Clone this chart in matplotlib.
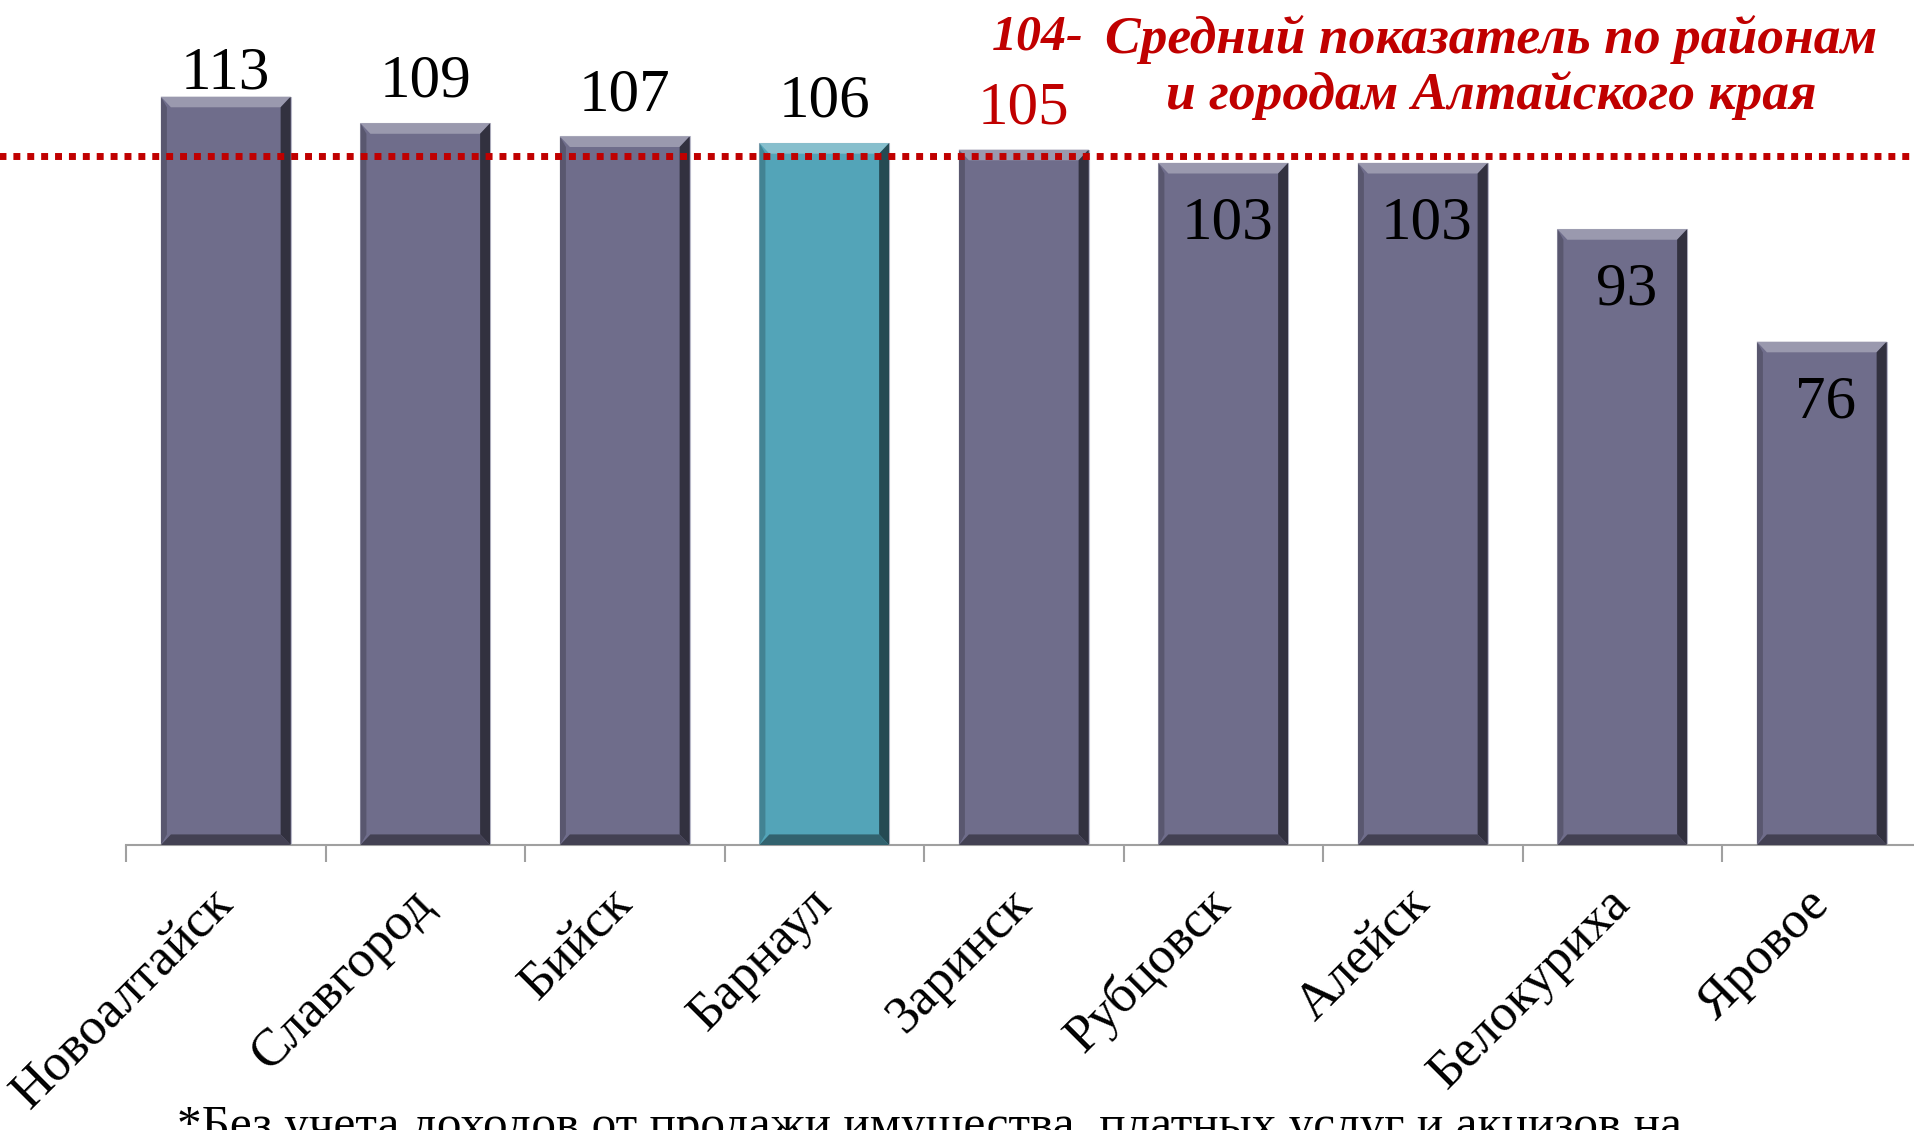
import matplotlib.pyplot as plt
import matplotlib.colors as mc
from matplotlib.patches import Polygon

# data
cities = ["Новоалтайск", "Славгород", "Бийск", "Барнаул", "Заринск",
          "Рубцовск", "Алейск", "Белокуриха", "Яровое"]
values = [113, 109, 107, 106, 105, 103, 103, 93, 76]
average = 104
highlight = "Барнаул"
note_text = "Средний показатель по районам\nи городам Алтайского края"
avg_label = "104-"
footnote = "*Без учета доходов от продажи имущества, платных услуг и акцизов на"

plt.rcParams["font.family"] = ["Liberation Serif", "DejaVu Serif"]

bar_color = "#6F6D8B"
hi_color = "#53A4B8"
red = "#C00000"

fig = plt.figure(figsize=(19.15, 11.3), dpi=100)
ax = fig.add_axes([0.0658, 0.2522, 0.9376, 0.7478])

x = list(range(len(cities)))
colors = [hi_color if c == highlight else bar_color for c in cities]
bars = ax.bar(x, values, width=0.65, color=colors, edgecolor="#B8B8C8",
              linewidth=0.8, zorder=2)

ax.set_xlim(-0.5, len(cities) - 0.5)
ax.set_ylim(0, 127.6)


def shade(c, f):
    r, g, b = mc.to_rgb(c)
    if f > 1:
        return (r + (1 - r) * (f - 1), g + (1 - g) * (f - 1), b + (1 - b) * (f - 1))
    return (r * f, g * f, b * f)


# bevel look on every bar
dx, dy = 0.05, 1.6
for b, c in zip(bars, colors):
    x0, w, h = b.get_x(), b.get_width(), b.get_height()
    x1 = x0 + w
    top = Polygon([(x0, h), (x1, h), (x1 - dx, h - dy), (x0 + dx, h - dy)],
                  closed=True, color=shade(c, 1.3), lw=0, zorder=3)
    right = Polygon([(x1, h), (x1, 0), (x1 - dx, dy), (x1 - dx, h - dy)],
                    closed=True, color=shade(c, 0.45), lw=0, zorder=3)
    left = Polygon([(x0, h), (x0, 0), (x0 + dx * 0.6, dy), (x0 + dx * 0.6, h - dy)],
                   closed=True, color=shade(c, 0.8), lw=0, zorder=3)
    bottom = Polygon([(x0, 0), (x1, 0), (x1 - dx, dy), (x0 + dx, dy)],
                     closed=True, color=shade(c, 0.6), lw=0, zorder=3)
    for p in (top, right, left, bottom):
        ax.add_patch(p)

# value labels
for i, v in enumerate(values):
    if v > average + 1:
        ax.text(i, min(v + 2.0, 112.3), str(v), ha="center", va="bottom",
                fontsize=44, color="black", zorder=5)
    elif v > average:
        ax.text(i, v + 2.0, str(v), ha="center", va="bottom",
                fontsize=44, color=red, zorder=5)
    else:
        ax.text(i + 0.02, v - 5.0, str(v), ha="center", va="top",
                fontsize=44, color="black", zorder=5)

# average line
ax.axhline(average, xmin=-0.1, xmax=1.1, color=red, lw=5,
           dashes=(1, 1), dash_capstyle="butt", clip_on=False, zorder=4)

fig.text(0.5656, 0.987, avg_label, ha="right", va="top",
         fontsize=36, color=red, fontweight="bold", fontstyle="italic")
fig.text(0.7786, 0.987, note_text, ha="center", va="top",
         fontsize=38.5, color=red, fontweight="bold", fontstyle="italic",
         linespacing=1.2)

# axes styling
for s in ("top", "right", "left"):
    ax.spines[s].set_visible(False)
ax.spines["bottom"].set_color("#A0A0A0")
ax.spines["bottom"].set_linewidth(1.5)
ax.set_yticks([])
ax.set_xticks(x)
ax.set_xticklabels(cities, rotation=45, ha="right", va="center",
                   rotation_mode="anchor", fontsize=38)
ax.tick_params(axis="x", which="major", length=0, pad=37)
ax.set_xticks([i - 0.5 for i in range(len(cities) + 1)], minor=True)
ax.tick_params(axis="x", which="minor", length=12, width=1.5, color="#A0A0A0")

fig.text(0.0925, 0.022, footnote, ha="left", va="top", fontsize=35.5)

fig.savefig("out.png", dpi=100)
